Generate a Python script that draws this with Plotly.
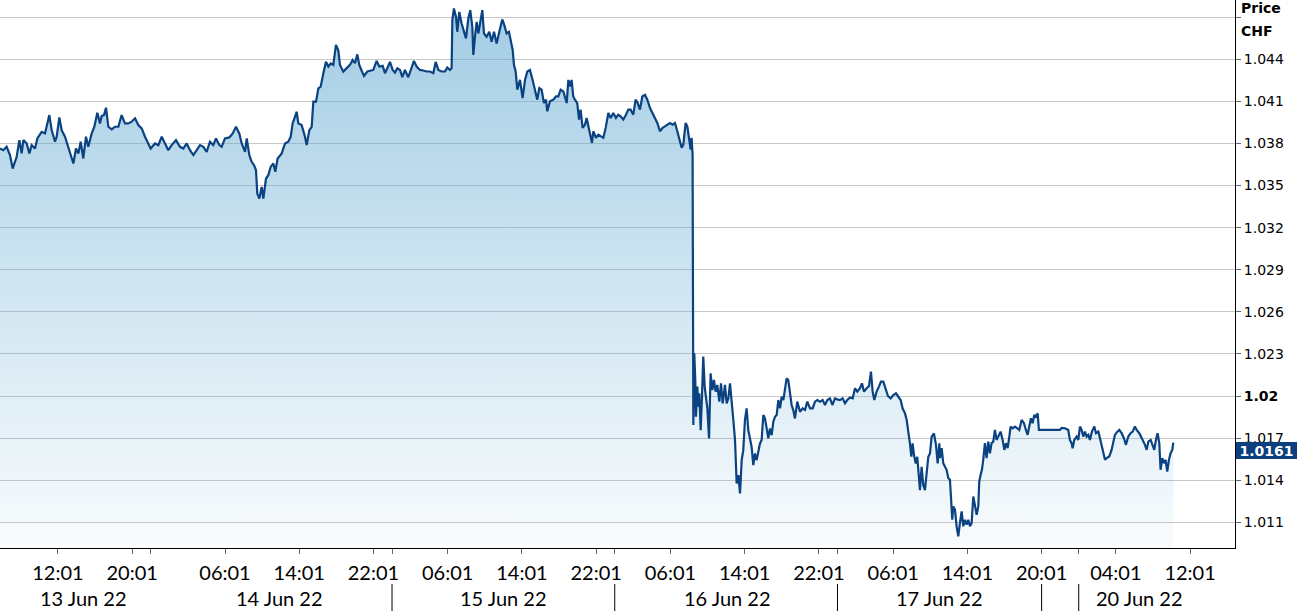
import plotly.graph_objects as go

# Trading-time axis: hours counted from 13 Jun 22 00:00 (weekend compressed)
hours = [
    5.75, 6.11, 6.47, 6.83, 7.12, 7.37, 7.55, 7.84, 8.09, 8.27, 8.63, 8.92, 9.17, 9.53, 9.78,
    10.24, 10.60, 11.07, 11.32, 11.68, 11.86, 12.15, 12.40, 12.76, 13.12, 13.40, 13.66, 13.94,
    14.20, 14.45, 14.73, 15.02, 15.27, 15.63, 15.92, 16.24, 16.53, 16.71, 16.96, 17.18, 17.43,
    17.79, 18.15, 18.51, 18.86, 19.22, 19.58, 19.94, 20.30, 20.66, 21.02, 21.38, 21.74, 21.99,
    22.46, 22.82, 23.18, 23.53, 23.89, 24.25, 24.72, 25.15, 25.51, 25.87, 26.23, 26.59, 26.95,
    27.31, 27.67, 28.02, 28.38, 28.74, 29.03, 29.39, 29.64, 30.00, 30.47, 30.83, 31.18, 31.54,
    31.80, 32.16, 32.34, 32.62, 32.87, 33.13, 33.34, 33.48, 33.70, 33.95, 34.13, 34.42, 34.67,
    34.92, 35.21, 35.42, 35.67, 36.11, 36.47, 36.82, 37.08, 37.29, 37.54, 37.72, 37.90, 38.26,
    38.62, 38.80, 39.09, 39.34, 39.52, 39.81, 40.06, 40.31, 40.60, 40.88, 41.14, 41.39, 41.67,
    41.96, 42.21, 42.39, 42.75, 43.11, 43.47,
    43.75, 44.01, 44.26, 44.47, 44.72, 44.98, 45.34, 45.62, 45.98, 46.34, 46.63, 46.99, 47.24,
    47.49, 47.78, 48.07, 48.32, 48.57, 48.86, 49.11, 49.39, 49.75, 50.11, 50.36, 50.65, 51.01,
    51.37, 51.73, 52.09, 52.45, 52.70, 52.99, 53.35, 53.70, 53.96, 54.24, 54.42, 54.50, 54.67,
    54.89, 55.03, 55.25, 55.50, 55.75, 55.97, 56.22, 56.43, 56.65, 56.76, 56.94, 57.12, 57.30,
    57.48, 57.73, 57.91, 58.19, 58.48, 58.73, 58.99, 59.27, 59.56, 59.88, 60.10, 60.35, 60.60,
    60.82, 61.00, 61.14, 61.32, 61.50, 61.79, 62.07, 62.33, 62.58, 62.86, 63.15, 63.40, 63.65,
    63.87, 64.12, 64.37, 64.59, 64.73, 65.02, 65.38, 65.67, 65.92, 66.17, 66.46, 66.67, 66.82,
    67.00, 67.18, 67.35, 67.53, 67.71, 67.96, 68.15, 68.32, 68.54, 68.79, 68.97, 69.22, 69.40,
    69.55, 69.69, 69.98, 70.23, 70.48, 70.77, 71.02, 71.31, 71.56, 71.85, 72.13, 72.38, 72.63,
    72.92, 73.21, 73.46, 73.71, 74.00, 74.25, 74.47, 74.72, 74.97, 75.26, 75.51, 75.80, 76.08,
    76.33, 76.59, 76.87, 77.16, 77.41, 77.66, 77.95, 78.24, 78.49, 78.74, 78.96, 79.21, 79.39,
    79.64, 79.82, 80.03, 80.18, 80.28, 80.39,
    80.47, 80.57, 80.68, 80.75, 80.90, 81.01, 81.11, 81.26, 81.40, 81.54, 81.69, 81.83, 81.98,
    82.16, 82.33, 82.51, 82.69, 82.87, 83.05, 83.27, 83.45, 83.63, 83.88, 84.06, 84.24, 84.42,
    84.60, 84.78, 84.96, 85.14, 85.32, 85.50, 85.68, 85.85, 86.03, 86.21, 86.39, 86.57, 86.75,
    86.93, 87.11, 87.29, 87.47, 87.65, 87.83, 88.01, 88.19, 88.37, 88.55, 88.73, 88.91, 89.09,
    89.27, 89.45, 89.63, 89.81, 89.99, 90.17, 90.35, 90.52, 90.70, 90.88, 91.06, 91.24, 91.42,
    91.67, 91.96, 92.25, 92.50, 92.75, 93.04, 93.33, 93.58, 93.83, 94.12, 94.40, 94.66, 94.91,
    95.19, 95.45, 95.73, 95.98, 96.27, 96.56, 96.81, 97.06, 97.35, 97.64, 97.89, 98.14, 98.43,
    98.64, 98.86, 99.15, 99.40, 99.61, 99.79, 99.97, 100.22, 100.47, 100.69, 100.94, 101.19,
    101.44, 101.73, 102.02, 102.31, 102.56, 102.81, 103.02, 103.28, 103.46, 103.64, 103.81,
    103.96, 104.10, 104.25, 104.43, 104.60, 104.78, 104.89, 105.07, 105.25, 105.43, 105.61,
    105.79, 105.97, 106.15, 106.40, 106.62, 106.80, 106.98,
    107.05, 107.23, 107.40, 107.58, 107.76, 107.94, 108.12, 108.23, 108.37, 108.48, 108.66,
    108.84, 109.02, 109.20, 109.38, 109.56, 109.74, 109.92, 110.10, 110.28, 110.46, 110.64,
    110.82, 111.00, 111.18, 111.28, 111.43, 111.57, 111.71, 111.89, 112.07, 112.25, 112.43,
    112.61, 112.79, 112.97, 113.15, 113.33, 113.58, 113.80, 113.98, 114.16, 114.34, 114.52,
    114.66, 114.88, 115.13, 115.38, 115.59, 115.85, 116.10, 116.31, 116.49, 116.67, 116.85,
    117.03, 117.21, 117.39, 117.57, 117.71, 118.18, 118.90, 119.62, 119.98, 120.16, 120.52,
    120.87, 121.05, 121.23, 121.34, 121.52, 121.77, 121.95, 122.13, 122.31, 122.49, 122.67,
    122.85, 123.03, 123.21, 123.42, 123.68, 123.86, 124.11, 124.29, 124.47, 124.65, 124.83,
    125.01, 125.29, 125.54, 125.72, 125.90, 126.16, 126.37, 126.62, 126.87, 127.09, 127.34,
    127.59, 127.81, 128.06, 128.24, 128.53, 128.71, 128.96, 129.14, 129.32, 129.50, 129.75,
    129.96, 130.14, 130.32, 130.50, 130.68, 130.82, 131.00, 131.18, 131.36, 131.54, 131.72,
    131.90, 132.08, 132.19,
]

price = [
    1.03764, 1.03752, 1.03776, 1.03717, 1.03621, 1.03669, 1.03705, 1.03824, 1.03729, 1.03824,
    1.03800, 1.03729, 1.03788, 1.03764, 1.03836, 1.03883, 1.03871, 1.04002, 1.03895, 1.03812,
    1.03848, 1.03986, 1.03895, 1.03848, 1.03764, 1.03705, 1.03657, 1.03764, 1.03729, 1.03812,
    1.03693, 1.03848, 1.03776, 1.03871, 1.03919, 1.04019, 1.03943, 1.03995, 1.04002, 1.04055,
    1.03919, 1.03900, 1.03919, 1.03919, 1.04002, 1.03943, 1.03943, 1.03955, 1.03979, 1.03931,
    1.03907, 1.03848, 1.03800, 1.03764, 1.03800, 1.03788, 1.03848, 1.03805, 1.03752, 1.03788,
    1.03824, 1.03776, 1.03764, 1.03800, 1.03752, 1.03717, 1.03752, 1.03788, 1.03776, 1.03740,
    1.03812, 1.03788, 1.03836, 1.03788, 1.03776, 1.03836, 1.03843, 1.03871, 1.03919, 1.03871,
    1.03800, 1.03740, 1.03836, 1.03717, 1.03669, 1.03645, 1.03610, 1.03443, 1.03407, 1.03490,
    1.03407, 1.03550, 1.03574, 1.03633, 1.03657, 1.03598, 1.03693, 1.03729, 1.03800, 1.03812,
    1.03848, 1.03943, 1.03990, 1.04026, 1.03943, 1.03931, 1.03848, 1.03788, 1.03895, 1.03919,
    1.04098, 1.04098, 1.04193, 1.04205, 1.04300, 1.04383, 1.04348, 1.04371, 1.04360, 1.04502,
    1.04464, 1.04360, 1.04312, 1.04336, 1.04360,
    1.04395, 1.04372, 1.04435, 1.04360, 1.04320, 1.04282, 1.04313, 1.04320, 1.04324, 1.04388,
    1.04348, 1.04353, 1.04301, 1.04336, 1.04381, 1.04324, 1.04305, 1.04336, 1.04324, 1.04272,
    1.04324, 1.04272, 1.04348, 1.04388, 1.04348, 1.04324, 1.04320, 1.04313, 1.04313, 1.04301,
    1.04381, 1.04324, 1.04313, 1.04313, 1.04341, 1.04324, 1.04336, 1.04679, 1.04762, 1.04703,
    1.04596, 1.04738, 1.04655, 1.04596, 1.04549, 1.04691, 1.04750, 1.04632, 1.04431, 1.04561,
    1.04667, 1.04584, 1.04655, 1.04750, 1.04584, 1.04561, 1.04596, 1.04525, 1.04596, 1.04513,
    1.04596, 1.04684, 1.04643, 1.04584, 1.04596, 1.04513, 1.04466, 1.04360, 1.04313, 1.04183,
    1.04253, 1.04123, 1.04253, 1.04313, 1.04324, 1.04253, 1.04183, 1.04112, 1.04194, 1.04183,
    1.04088, 1.04112, 1.04029, 1.04100, 1.04112, 1.04135, 1.04135, 1.04183, 1.04171, 1.04112,
    1.04088, 1.04253, 1.04206, 1.04253, 1.04135, 1.04112, 1.04088, 1.03970, 1.04041, 1.03911,
    1.03934, 1.03982, 1.03899, 1.03863, 1.03804, 1.03887, 1.03840, 1.03863, 1.03852, 1.03840,
    1.03911, 1.04017, 1.03982, 1.04017, 1.03982, 1.04005, 1.03993, 1.03970, 1.04005, 1.04041,
    1.04041, 1.04005, 1.04112, 1.04088, 1.04041, 1.04135, 1.04147, 1.04112, 1.04052, 1.04017,
    1.03982, 1.03946, 1.03887, 1.03911, 1.03922, 1.03934, 1.03946, 1.03934, 1.03946, 1.03887,
    1.03828, 1.03769, 1.03792, 1.03946, 1.03922, 1.03828, 1.03757, 1.03840, 1.03721,
    1.01793, 1.02305, 1.02114, 1.01852, 1.02067, 1.01924, 1.02019, 1.01757, 1.01995, 1.02281,
    1.02067, 1.01971, 1.01912, 1.01698, 1.02162, 1.02043, 1.02114, 1.02031, 1.02079, 1.01960,
    1.02090, 1.01948, 1.02079, 1.01948, 1.01983, 1.02090, 1.01924, 1.01829, 1.01686, 1.01376,
    1.01436, 1.01305, 1.01543, 1.01614, 1.01829, 1.01912, 1.01757, 1.01698, 1.01638, 1.01507,
    1.01590, 1.01543, 1.01602, 1.01662, 1.01686, 1.01864, 1.01840, 1.01757, 1.01698, 1.01769,
    1.01721, 1.01817, 1.01852, 1.01864, 1.01971, 1.01912, 1.01995, 1.01971, 1.02055, 1.02126,
    1.02114, 1.02019, 1.01936, 1.01900, 1.01840, 1.01960, 1.01888, 1.01912, 1.01900, 1.01960,
    1.01912, 1.01912, 1.01960, 1.01971, 1.01960, 1.01971, 1.01936, 1.01971, 1.01983, 1.01936,
    1.01983, 1.01976, 1.01971, 1.01983, 1.01948, 1.01971, 1.01990, 1.01983, 1.02055, 1.02031,
    1.02055, 1.02090, 1.02031, 1.02055, 1.02071, 1.02174, 1.02031, 1.01971, 1.02031, 1.02067,
    1.02102, 1.02102, 1.02055, 1.02000, 1.01983, 1.02007, 1.02019, 1.01995, 1.01971, 1.01912,
    1.01876, 1.01829, 1.01757, 1.01662, 1.01567, 1.01662, 1.01579, 1.01519, 1.01567, 1.01448,
    1.01329, 1.01495, 1.01364, 1.01329, 1.01471, 1.01567, 1.01590, 1.01710, 1.01733, 1.01650,
    1.01519, 1.01662,
    1.01557, 1.01628, 1.01521, 1.01498, 1.01474, 1.01415, 1.01403, 1.01284, 1.01118, 1.01213,
    1.01190, 1.01071, 1.01000, 1.01095, 1.01178, 1.01071, 1.01118, 1.01083, 1.01118, 1.01071,
    1.01095, 1.01284, 1.01213, 1.01154, 1.01213, 1.01391, 1.01438, 1.01474, 1.01545, 1.01664,
    1.01557, 1.01675, 1.01592, 1.01664, 1.01675, 1.01758, 1.01687, 1.01711, 1.01746, 1.01687,
    1.01616, 1.01664, 1.01628, 1.01711, 1.01782, 1.01770, 1.01782, 1.01770, 1.01758, 1.01829,
    1.01806, 1.01758, 1.01723, 1.01782, 1.01841, 1.01806, 1.01865, 1.01853, 1.01877, 1.01758,
    1.01758, 1.01754, 1.01754, 1.01758, 1.01773, 1.01770, 1.01758, 1.01687, 1.01664, 1.01628,
    1.01687, 1.01711, 1.01687, 1.01782, 1.01758, 1.01711, 1.01746, 1.01711, 1.01723, 1.01687,
    1.01746, 1.01782, 1.01735, 1.01746, 1.01699, 1.01640, 1.01592, 1.01545, 1.01557, 1.01569,
    1.01616, 1.01675, 1.01723, 1.01746, 1.01758, 1.01735, 1.01699, 1.01652, 1.01711, 1.01735,
    1.01746, 1.01782, 1.01758, 1.01735, 1.01711, 1.01687, 1.01652, 1.01616, 1.01675, 1.01687,
    1.01652, 1.01616, 1.01687, 1.01735, 1.01664, 1.01474, 1.01557, 1.01521, 1.01545, 1.01462,
    1.01545, 1.01592, 1.01616, 1.01668,
]

last_price = 1.0161

y_ticks = [1.011, 1.014, 1.017, 1.020, 1.023, 1.026, 1.029, 1.032, 1.035, 1.038, 1.041, 1.044, 1.047]
y_text = ["1.011", "1.014", "1.017", "<b>1.02</b>", "1.023", "1.026", "1.029", "1.032",
          "1.035", "1.038", "1.041", "1.044", ""]

x_ticks = [12, 20, 22, 30, 38, 46, 48, 54, 62, 70, 72, 78, 86, 94, 96, 102, 110, 118, 122, 126, 134]
x_text = ["12:01", "20:01", "", "06:01", "14:01", "22:01", "", "06:01", "14:01", "22:01", "",
          "06:01", "14:01", "22:01", "", "06:01", "14:01", "20:01", "", "04:01", "12:01"]

day_separators = [48, 72, 96, 118, 122]
day_labels = ["13 Jun 22", "14 Jun 22", "15 Jun 22", "16 Jun 22", "17 Jun 22", "20 Jun 22"]
day_label_pos = [14.7, 35.9, 60.0, 84.1, 107.0, 128.6]

x_range = [5.754, 138.84]
y_range = [1.009166, 1.048225]

LINE = "#0a4282"
W, H = 1297, 611
ML, MR, MT, MB = 0, 62, 0, 63
plot_h = H - MT - MB

fig = go.Figure()
fig.add_trace(go.Scatter(
    x=hours, y=price, mode="lines",
    line=dict(color=LINE, width=2.2),
    fill="tozeroy",
    fillgradient=dict(
        type="vertical",
        start=y_range[0], stop=y_range[1],
        colorscale=[[0, "rgba(100,170,210,0.04)"], [1, "rgba(100,170,210,0.6)"]],
    ),
    hoverinfo="x+y",
    showlegend=False,
))

def paper_y(py):
    return 1 - (py - MT) / plot_h

shapes = []
for d in day_separators:
    shapes.append(dict(type="line", xref="x", yref="paper", x0=d, x1=d,
                       y0=paper_y(584), y1=paper_y(612), line=dict(color="black", width=1)))

annotations = []
for lbl, pos in zip(day_labels, day_label_pos):
    annotations.append(dict(x=pos, y=paper_y(598), xref="x", yref="paper", text=lbl,
                            showarrow=False, xanchor="center", yanchor="middle",
                            font=dict(family="Lato", size=20, color="black")))
annotations.append(dict(x=1, y=paper_y(8), xref="paper", yref="paper", text="<b>Price</b>",
                        showarrow=False, xanchor="left", yanchor="middle", xshift=4,
                        font=dict(family="DejaVu Sans", size=14, color="black")))
annotations.append(dict(x=1, y=paper_y(31), xref="paper", yref="paper", text="<b>CHF</b>",
                        showarrow=False, xanchor="left", yanchor="middle", xshift=4,
                        font=dict(family="DejaVu Sans", size=14, color="black")))
annotations.append(dict(x=1, y=last_price, xref="paper", yref="y", text="<b>%.4f</b>" % last_price,
                        showarrow=False, xanchor="left", yanchor="middle", xshift=1,
                        bgcolor="#0b3f7d", borderpad=0, borderwidth=0, width=61, height=17,
                        align="center",
                        font=dict(family="DejaVu Sans", size=14, color="white")))

fig.update_layout(
    width=W, height=H,
    margin=dict(l=ML, r=MR, t=MT, b=MB, pad=0),
    paper_bgcolor="white", plot_bgcolor="white",
    xaxis=dict(
        range=x_range, tickmode="array", tickvals=x_ticks, ticktext=x_text,
        showgrid=False, zeroline=False,
        showline=True, linecolor="black", linewidth=1,
        ticks="outside", ticklen=5, tickcolor="#666666", tickwidth=1,
        tickfont=dict(family="Lato", size=20, color="black"),
        ticklabelstandoff=2,
    ),
    yaxis=dict(
        range=y_range, side="right", tickmode="array", tickvals=y_ticks, ticktext=y_text,
        showgrid=True, gridcolor="#c8c8c8", gridwidth=1, zeroline=False,
        showline=True, linecolor="black", linewidth=1,
        ticks="outside", ticklen=5, tickcolor="#666666", tickwidth=1,
        tickfont=dict(family="DejaVu Sans", size=14, color="black"),
    ),
    shapes=shapes,
    annotations=annotations,
)

fig.write_html(
    "out.html",
    config={"displayModeBar": False},
    post_script="document.body.style.margin='0';document.body.style.padding='0';"
                "document.body.style.overflow='hidden';",
)
